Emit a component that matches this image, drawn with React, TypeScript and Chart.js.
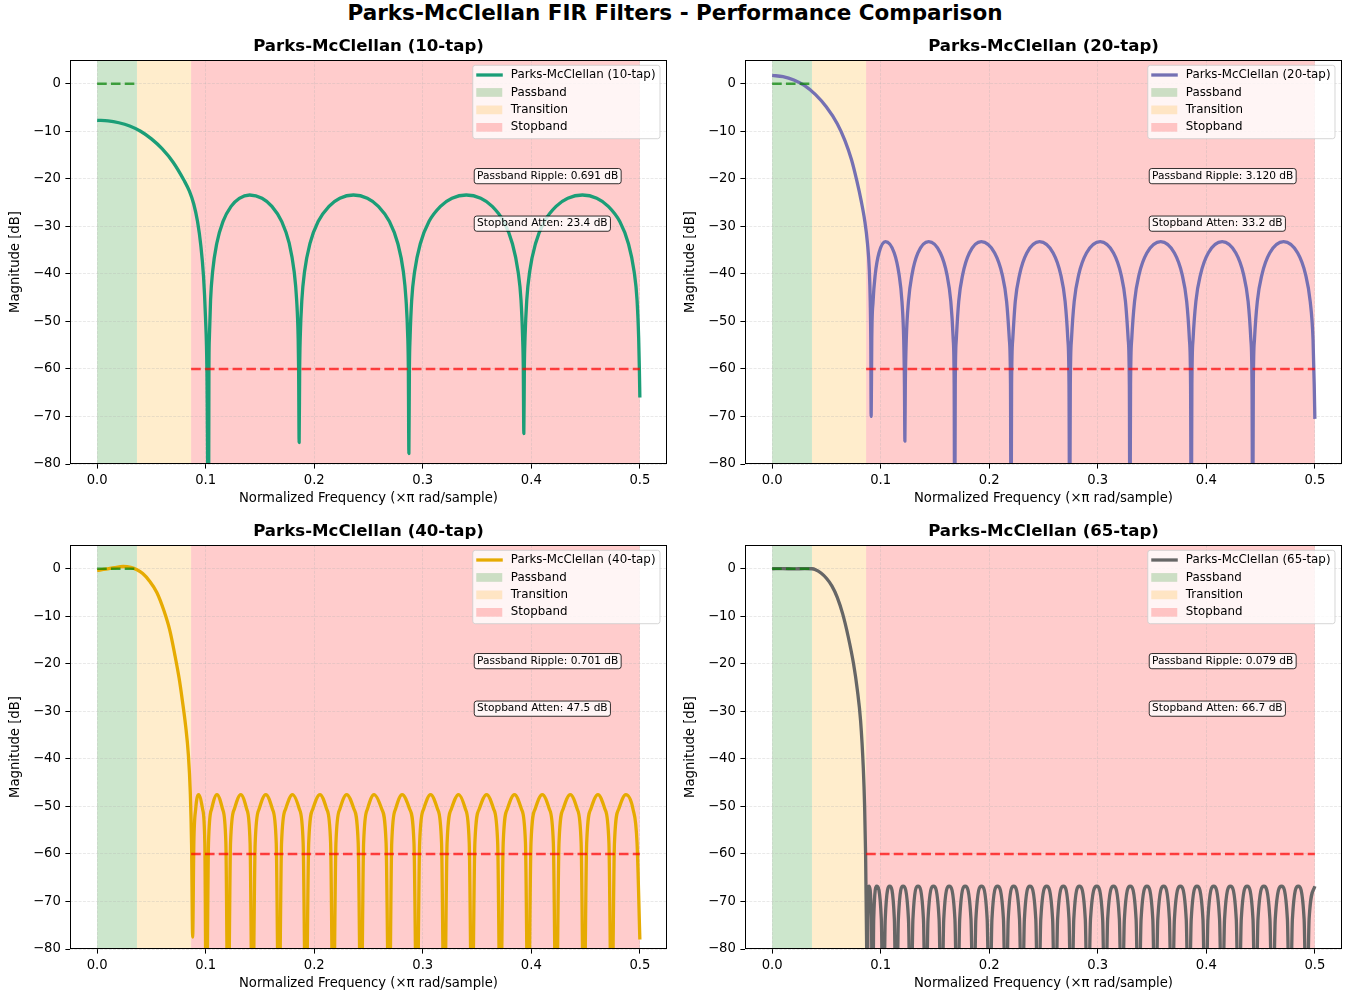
import React, { useEffect, useRef } from "react";
import { Chart, registerables } from "chart.js";

Chart.register(...registerables);

const FONT = "'DejaVu Sans', 'Liberation Sans', sans-serif";

// ---------- axes ----------
const xTicks = [0, 0.1, 0.2, 0.3, 0.4, 0.5];
const xTickLabels = ["0.0", "0.1", "0.2", "0.3", "0.4", "0.5"];
const yTicks = [-80, -70, -60, -50, -40, -30, -20, -10, 0];
const yTickLabels = ["−80", "−70", "−60", "−50", "−40", "−30", "−20", "−10", "0"];
const xRange = [-0.025, 0.525];
const yRange = [-80, 5];

// ---------- band edges / reference levels ----------
const passbandEdge = 0.0367;
const stopbandEdge = 0.0866;
const nyquistEdge = 0.5;
const passbandRef = 0;
const stopbandRef = -60;

// ---------- texts ----------
const suptitle = "Parks-McClellan FIR Filters - Performance Comparison";
const panelTitles = [
  "Parks-McClellan (10-tap)",
  "Parks-McClellan (20-tap)",
  "Parks-McClellan (40-tap)",
  "Parks-McClellan (65-tap)",
];
const rippleValues = ["0.691", "3.120", "0.701", "0.079"];
const attenValues = ["23.4", "33.2", "47.5", "66.7"];
const bandLabels = ["Passband", "Transition", "Stopband"];
const xAxisTitle = "Normalized Frequency (×π rad/sample)";
const yAxisTitle = "Magnitude [dB]";

// ---------- magnitude responses [freq, dB] ----------
const resp10: [number, number][] = [
  [0, -7.7], [0.01, -7.8], [0.02, -8.2], [0.03, -8.9], [0.04, -10.0], [0.05, -11.6], [0.06, -13.7], [0.07, -16.5],
  [0.08, -20.3], [0.085, -22.6], [0.089, -25.3], [0.0925, -29.0], [0.0955, -34.0], [0.098, -40.5], [0.0998, -49.0], [0.1012, -61.0], [0.1026, -100],
  [0.103, -59.5], [0.1034, -53.5], [0.1045, -45.5], [0.1064, -39.5], [0.1102, -33.6], [0.1159, -29.0], [0.1234, -25.8], [0.131, -24.1], [0.1405, -23.4],
  [0.1519, -24.1], [0.161, -25.8], [0.1701, -29.0], [0.177, -33.6], [0.1815, -39.5], [0.1838, -45.5], [0.1852, -53.5], [0.1856, -59.5], [0.1861, -75.5],
  [0.1866, -59.5], [0.1871, -53.5], [0.1886, -45.5], [0.1911, -39.5], [0.1961, -33.6], [0.2036, -29.0], [0.2136, -25.8], [0.2236, -24.1], [0.2361, -23.4],
  [0.2489, -24.1], [0.2591, -25.8], [0.2693, -29.0], [0.277, -33.6], [0.2821, -39.5], [0.2846, -45.5], [0.2862, -53.5], [0.2867, -59.5], [0.2872, -77.8],
  [0.2877, -59.5], [0.2883, -53.5], [0.2898, -45.5], [0.2925, -39.5], [0.2978, -33.6], [0.3057, -29.0], [0.3163, -25.8], [0.3269, -24.1], [0.3401, -23.4],
  [0.3534, -24.1], [0.364, -25.8], [0.3746, -29.0], [0.3825, -33.6], [0.3878, -39.5], [0.3905, -45.5], [0.392, -53.5], [0.3926, -59.5], [0.3931, -73.6],
  [0.3936, -59.5], [0.3942, -53.5], [0.3958, -45.5], [0.3985, -39.5], [0.4039, -33.6], [0.412, -29.0], [0.4228, -25.8], [0.4336, -24.1], [0.4471, -23.4],
  [0.4603, -24.1], [0.4709, -25.8], [0.4815, -29.0], [0.4894, -33.6], [0.4947, -39.5], [0.4974, -45.5], [0.4989, -53.5], [0.4995, -59.5], [0.5, -66.0],
];

const resp20: [number, number][] = [
  [0, 1.75], [0.01, 1.5], [0.02, 0.8], [0.03, -0.4], [0.04, -2.3], [0.05, -4.9], [0.06, -8.4], [0.067, -11.9],
  [0.073, -15.9], [0.078, -20.4], [0.082, -24.6], [0.0853, -28.8], [0.0878, -33.5], [0.0895, -39.0], [0.0904, -46.0], [0.0909, -55.0], [0.0912, -70.0],
  [0.0915, -63.3], [0.0918, -53.7], [0.093, -45.8], [0.095, -40.1], [0.0984, -35.6], [0.1044, -33.2], [0.1125, -35.6], [0.1169, -40.1], [0.1196, -45.8], [0.1212, -53.7], [0.1219, -63.3], [0.1223, -75.2],
  [0.1227, -63.3], [0.1236, -53.7], [0.1256, -45.8], [0.1289, -40.1], [0.1343, -35.6], [0.1442, -33.2], [0.155, -35.6], [0.161, -40.1], [0.1646, -45.8], [0.1668, -53.7], [0.1677, -63.3], [0.1682, -100],
  [0.1687, -63.3], [0.1697, -53.7], [0.1719, -45.8], [0.1756, -40.1], [0.1817, -35.6], [0.1927, -33.2], [0.205, -35.6], [0.2119, -40.1], [0.216, -45.8], [0.2185, -53.7], [0.2196, -63.3], [0.2201, -100],
  [0.2206, -63.3], [0.2217, -53.7], [0.224, -45.8], [0.228, -40.1], [0.2346, -35.6], [0.2464, -33.2], [0.2589, -35.6], [0.2658, -40.1], [0.2699, -45.8], [0.2724, -53.7], [0.2735, -63.3], [0.2741, -100],
  [0.2747, -63.3], [0.2758, -53.7], [0.2783, -45.8], [0.2825, -40.1], [0.2896, -35.6], [0.3022, -33.2], [0.3145, -35.6], [0.3214, -40.1], [0.3255, -45.8], [0.328, -53.7], [0.3291, -63.3], [0.3296, -100],
  [0.3302, -63.3], [0.3313, -53.7], [0.3339, -45.8], [0.3381, -40.1], [0.3452, -35.6], [0.358, -33.2], [0.3706, -35.6], [0.3777, -40.1], [0.3819, -45.8], [0.3844, -53.7], [0.3855, -63.3], [0.3861, -100],
  [0.3867, -63.3], [0.3878, -53.7], [0.3904, -45.8], [0.3947, -40.1], [0.4018, -35.6], [0.4146, -33.2], [0.4272, -35.6], [0.4343, -40.1], [0.4385, -45.8], [0.441, -53.7], [0.4421, -63.3], [0.4427, -100],
  [0.4433, -63.3], [0.4444, -53.7], [0.447, -45.8], [0.4513, -40.1], [0.4584, -35.6], [0.4712, -33.2], [0.4842, -35.6], [0.4914, -40.1], [0.4957, -45.8], [0.4983, -53.7], [0.4994, -63.3], [0.5, -70.5],
];

const resp40: [number, number][] = [
  [0, -0.35], [0.008, -0.1], [0.016, 0.25], [0.024, 0.48], [0.031, 0.3], [0.0367, -0.2], [0.042, -1.0], [0.048, -2.5],
  [0.055, -5.0], [0.0615, -8.8], [0.067, -13.0], [0.0715, -18.0], [0.0755, -23.0], [0.0785, -27.7], [0.0815, -33.0],
  [0.084, -39.0], [0.0858, -47.0], [0.087, -58.0], [0.088, -77.5],
  [0.0891, -57.7], [0.0908, -50.5], [0.0935, -47.5], [0.0971, -50.5], [0.0992, -57.7], [0.1006, -100],
  [0.1026, -57.7], [0.1055, -50.5], [0.1104, -47.5], [0.1155, -50.5], [0.1186, -57.7], [0.1206, -100],
  [0.1229, -57.7], [0.1265, -50.5], [0.1323, -47.5], [0.1377, -50.5], [0.1409, -57.7], [0.1431, -100],
  [0.1456, -57.7], [0.1493, -50.5], [0.1554, -47.5], [0.1614, -50.5], [0.165, -57.7], [0.1674, -100],
  [0.1699, -57.7], [0.1737, -50.5], [0.18, -47.5], [0.1862, -50.5], [0.1898, -57.7], [0.1923, -100],
  [0.1949, -57.7], [0.1988, -50.5], [0.2053, -47.5], [0.2114, -50.5], [0.2151, -57.7], [0.2175, -100],
  [0.22, -57.7], [0.2237, -50.5], [0.2299, -47.5], [0.2365, -50.5], [0.2405, -57.7], [0.2431, -100],
  [0.2455, -57.7], [0.2491, -50.5], [0.2551, -47.5], [0.2621, -50.5], [0.2662, -57.7], [0.269, -100],
  [0.2714, -57.7], [0.275, -50.5], [0.281, -47.5], [0.2878, -50.5], [0.2919, -57.7], [0.2946, -100],
  [0.2971, -57.7], [0.3009, -50.5], [0.3072, -47.5], [0.3135, -50.5], [0.3173, -57.7], [0.3198, -100],
  [0.3224, -57.7], [0.3264, -50.5], [0.333, -47.5], [0.3392, -50.5], [0.3428, -57.7], [0.3453, -100],
  [0.348, -57.7], [0.3521, -50.5], [0.3588, -47.5], [0.3652, -50.5], [0.369, -57.7], [0.3715, -100],
  [0.3741, -57.7], [0.378, -50.5], [0.3845, -47.5], [0.3908, -50.5], [0.3946, -57.7], [0.3971, -100],
  [0.3997, -57.7], [0.4036, -50.5], [0.4101, -47.5], [0.4165, -50.5], [0.4203, -57.7], [0.4229, -100],
  [0.4255, -57.7], [0.4294, -50.5], [0.4359, -47.5], [0.4422, -50.5], [0.4459, -57.7], [0.4484, -100],
  [0.451, -57.7], [0.4549, -50.5], [0.4614, -47.5], [0.4677, -50.5], [0.4715, -57.7], [0.474, -100],
  [0.4766, -57.7], [0.4806, -50.5], [0.4871, -47.5], [0.4936, -50.5], [0.4974, -57.7], [0.5, -78.0],
];

const resp65: [number, number][] = [
  [0, 0.0], [0.01, 0.03], [0.02, -0.03], [0.03, 0.03], [0.0367, 0.0], [0.04, -0.2], [0.045, -0.9], [0.05, -2.0],
  [0.055, -3.6], [0.06, -6.0], [0.065, -9.5], [0.07, -14.2], [0.075, -20.0], [0.0785, -25.5], [0.0815, -32.0],
  [0.084, -42.0], [0.0852, -50.0], [0.0861, -60.0], [0.087, -78.0], [0.0877, -100],
  [0.0882, -73.7], [0.0892, -66.8], [0.0915, -73.7], [0.0925, -100],
  [0.0936, -73.7], [0.0963, -66.8], [0.1006, -73.7], [0.1024, -100],
  [0.1042, -73.7], [0.1083, -66.8], [0.1126, -73.7], [0.1144, -100],
  [0.1163, -73.7], [0.1206, -66.8], [0.1256, -73.7], [0.1277, -100],
  [0.1297, -73.7], [0.1344, -66.8], [0.1394, -73.7], [0.1415, -100],
  [0.1436, -73.7], [0.1486, -66.8], [0.1538, -73.7], [0.156, -100],
  [0.1581, -73.7], [0.1631, -66.8], [0.1684, -73.7], [0.1707, -100],
  [0.1728, -73.7], [0.1778, -66.8], [0.1832, -73.7], [0.1855, -100],
  [0.1877, -73.7], [0.1929, -66.8], [0.1981, -73.7], [0.2003, -100],
  [0.2025, -73.7], [0.2076, -66.8], [0.2131, -73.7], [0.2154, -100],
  [0.2175, -73.7], [0.2225, -66.8], [0.2279, -73.7], [0.2302, -100],
  [0.2324, -73.7], [0.2375, -66.8], [0.2429, -73.7], [0.2452, -100],
  [0.2475, -73.7], [0.2529, -66.8], [0.2584, -73.7], [0.2607, -100],
  [0.263, -73.7], [0.2683, -66.8], [0.2735, -73.7], [0.2757, -100],
  [0.2779, -73.7], [0.2831, -66.8], [0.2885, -73.7], [0.2908, -100],
  [0.2933, -73.7], [0.2991, -66.8], [0.3045, -73.7], [0.3068, -100],
  [0.3091, -73.7], [0.3145, -66.8], [0.3199, -73.7], [0.3222, -100],
  [0.3245, -73.7], [0.3299, -66.8], [0.3353, -73.7], [0.3376, -100],
  [0.3399, -73.7], [0.3453, -66.8], [0.3507, -73.7], [0.353, -100],
  [0.3553, -73.7], [0.3607, -66.8], [0.366, -73.7], [0.3683, -100],
  [0.3706, -73.7], [0.3761, -66.8], [0.3815, -73.7], [0.3838, -100],
  [0.3861, -73.7], [0.3914, -66.8], [0.3969, -73.7], [0.3992, -100],
  [0.4015, -73.7], [0.4068, -66.8], [0.4122, -73.7], [0.4145, -100],
  [0.4168, -73.7], [0.4222, -66.8], [0.4276, -73.7], [0.4299, -100],
  [0.4322, -73.7], [0.4376, -66.8], [0.443, -73.7], [0.4453, -100],
  [0.4476, -73.7], [0.453, -66.8], [0.4586, -73.7], [0.461, -100],
  [0.4635, -73.7], [0.4693, -66.8], [0.4747, -73.7], [0.477, -100],
  [0.4793, -73.7], [0.4847, -66.8], [0.4901, -73.7], [0.4924, -100],
  [0.4947, -73.7], [0.5, -66.8],
];

const responses = [resp10, resp20, resp40, resp65];

// ---------- styles / layout (kept apart from the data) ----------
const lineColors = ["#1b9e77", "#7570b3", "#e6ab02", "#666666"];
const bandColors = ["rgba(0,128,0,0.2)", "rgba(255,165,0,0.2)", "rgba(255,0,0,0.2)"];
const panelOrigins = [
  [0, 28],
  [675, 28],
  [0, 513],
  [675, 513],
];
const CANVAS_W = 680;
const CANVAS_H = 480;

function roundRectPath(ctx: CanvasRenderingContext2D, x: number, y: number, w: number, h: number, r: number) {
  ctx.beginPath();
  ctx.moveTo(x + r, y);
  ctx.lineTo(x + w - r, y);
  ctx.arcTo(x + w, y, x + w, y + r, r);
  ctx.lineTo(x + w, y + h - r);
  ctx.arcTo(x + w, y + h, x + w - r, y + h, r);
  ctx.lineTo(x + r, y + h);
  ctx.arcTo(x, y + h, x, y + h - r, r);
  ctx.lineTo(x, y + r);
  ctx.arcTo(x, y, x + r, y, r);
  ctx.closePath();
}

function Panel({ index }: { index: number }) {
  const ref = useRef<HTMLCanvasElement | null>(null);

  useEffect(() => {
    const canvas = ref.current;
    if (!canvas) return;
    const title = panelTitles[index];
    const color = lineColors[index];
    const bandEdges: [number, number][] = [
      [0, passbandEdge],
      [passbandEdge, stopbandEdge],
      [stopbandEdge, nyquistEdge],
    ];

    const decor = {
      id: "decor" + index,
      beforeDraw(chart: any) {
        const { ctx, chartArea: ca, scales } = chart;
        const xs = scales.x;
        ctx.save();
        ctx.fillStyle = "#ffffff";
        ctx.fillRect(0, 0, chart.width, chart.height);
        bandEdges.forEach(([a, b], i) => {
          const x0 = xs.getPixelForValue(a);
          const x1 = xs.getPixelForValue(b);
          ctx.fillStyle = bandColors[i];
          ctx.fillRect(x0, ca.top, x1 - x0, ca.bottom - ca.top);
        });
        ctx.fillStyle = "#000";
        ctx.font = `bold 16.6px ${FONT}`;
        ctx.textAlign = "center";
        ctx.textBaseline = "middle";
        ctx.fillText(title, (ca.left + ca.right) / 2, ca.top - 13);
        ctx.restore();
      },
      afterDraw(chart: any) {
        const { ctx, chartArea: ca, scales } = chart;
        const xs = scales.x;
        const ys = scales.y;
        ctx.save();
        // spines
        ctx.strokeStyle = "#000";
        ctx.lineWidth = 1;
        ctx.strokeRect(Math.round(ca.left) + 0.5, Math.round(ca.top) + 0.5, Math.round(ca.right - ca.left) - 1, Math.round(ca.bottom - ca.top) - 1);

        // text boxes
        const boxTexts = [
          [`Passband Ripple: ${rippleValues[index]} dB`, -20],
          [`Stopband Atten: ${attenValues[index]} dB`, -30],
        ] as [string, number][];
        ctx.font = `10.6px ${FONT}`;
        boxTexts.forEach(([txt, yv]) => {
          const tx = xs.getPixelForValue(0.35);
          const ty = ys.getPixelForValue(yv);
          const w = ctx.measureText(txt).width;
          roundRectPath(ctx, tx - 2.8, ty - 10.3, w + 5.6, 15.2, 2.5);
          ctx.fillStyle = "rgba(255,255,255,0.8)";
          ctx.fill();
          ctx.strokeStyle = "rgba(0,0,0,0.8)";
          ctx.lineWidth = 1;
          ctx.stroke();
          ctx.fillStyle = "#000";
          ctx.textAlign = "left";
          ctx.textBaseline = "alphabetic";
          ctx.fillText(txt, tx, ty);
        });

        // legend
        const labels = [title, ...bandLabels];
        ctx.font = `11.85px ${FONT}`;
        const maxW = Math.max(...labels.map((l) => ctx.measureText(l).width));
        const lw = 38 + maxW + 4.5;
        const lh = 73.4;
        const L = ca.right - 7 - lw;
        const T = ca.top + 5.3;
        roundRectPath(ctx, L, T, lw, lh, 2.5);
        ctx.fillStyle = "rgba(255,255,255,0.8)";
        ctx.fill();
        ctx.strokeStyle = "rgba(204,204,204,0.8)";
        ctx.lineWidth = 1;
        ctx.stroke();
        labels.forEach((lab, i) => {
          const ry = T + 9.7 + i * 17.45;
          if (i === 0) {
            ctx.strokeStyle = color;
            ctx.lineWidth = 3.3;
            ctx.beginPath();
            ctx.moveTo(L + 3.5, ry);
            ctx.lineTo(L + 30, ry);
            ctx.stroke();
          } else {
            ctx.fillStyle = bandColors[i - 1];
            ctx.fillRect(L + 3.5, ry - 4.35, 26, 8.7);
          }
          ctx.fillStyle = "#000";
          ctx.textAlign = "left";
          ctx.textBaseline = "middle";
          ctx.fillText(lab, L + 38, ry);
        });
        ctx.restore();
      },
    };

    const tickFont = { family: FONT, size: 13.2 };
    const chart = new Chart(canvas, {
      type: "line",
      data: {
        datasets: [
          {
            label: "passband ref",
            data: [
              { x: 0, y: passbandRef },
              { x: passbandEdge, y: passbandRef },
            ],
            borderColor: "rgba(0,128,0,0.7)",
            borderWidth: 2.4,
            borderDash: [9.6, 4.2],
            pointRadius: 0,
            order: 1,
            clip: 0,
          },
          {
            label: "stopband ref",
            data: [
              { x: stopbandEdge, y: stopbandRef },
              { x: nyquistEdge, y: stopbandRef },
            ],
            borderColor: "rgba(255,0,0,0.7)",
            borderWidth: 2.4,
            borderDash: [9.6, 4.2],
            pointRadius: 0,
            order: 1,
            clip: 0,
          },
          {
            label: title,
            data: responses[index].map(([x, y]) => ({ x, y })),
            borderColor: color,
            borderWidth: 3.3,
            pointRadius: 0,
            cubicInterpolationMode: "monotone",
            borderJoinStyle: "round",
            order: 2,
            clip: 0,
          },
        ],
      } as any,
      options: {
        responsive: false,
        animation: false,
        devicePixelRatio: 1,
        events: [],
        layout: { padding: { top: 32, right: 13, bottom: 0, left: 0 } },
        plugins: { legend: { display: false }, title: { display: false }, tooltip: { enabled: false } },
        scales: {
          x: {
            type: "linear",
            min: xRange[0],
            max: xRange[1],
            bounds: "data",
            afterBuildTicks: (s: any) => {
              s.ticks = xTicks.map((v) => ({ value: v }));
            },
            afterFit: (s: any) => {
              s.height = 44;
            },
            ticks: {
              callback: (v: any) => {
                const k = xTicks.indexOf(Number(v));
                return k >= 0 ? xTickLabels[k] : "";
              },
              autoSkip: false,
              maxRotation: 0,
              padding: 4,
              color: "#000",
              font: tickFont,
            },
            grid: { color: "rgba(176,176,176,0.35)", lineWidth: 0.8, tickLength: 4.6, tickColor: "#000", tickWidth: 1, drawTicks: true },
            border: { display: false, dash: [3, 1.3] },
            title: { display: true, text: xAxisTitle, color: "#000", font: tickFont, padding: { top: 0, bottom: 1.5 } },
          },
          y: {
            type: "linear",
            min: yRange[0],
            max: yRange[1],
            bounds: "data",
            afterBuildTicks: (s: any) => {
              s.ticks = yTicks.map((v) => ({ value: v }));
            },
            afterFit: (s: any) => {
              s.width = 70;
            },
            ticks: {
              callback: (v: any) => {
                const k = yTicks.indexOf(Number(v));
                return k >= 0 ? yTickLabels[k] : "";
              },
              autoSkip: false,
              padding: 4.6,
              color: "#000",
              font: tickFont,
            },
            grid: { color: "rgba(176,176,176,0.35)", lineWidth: 0.8, tickLength: 4.6, tickColor: "#000", tickWidth: 1, drawTicks: true },
            border: { display: false, dash: [3, 1.3] },
            title: { display: true, text: yAxisTitle, color: "#000", font: tickFont, padding: { top: 8, bottom: 0 } },
          },
        },
      } as any,
      plugins: [decor],
    });
    return () => chart.destroy();
  }, [index]);

  const [left, top] = panelOrigins[index];
  return (
    <div style={{ position: "absolute", left, top, width: CANVAS_W, height: CANVAS_H }}>
      <canvas ref={ref} width={CANVAS_W} height={CANVAS_H} style={{ width: CANVAS_W, height: CANVAS_H, display: "block" }} />
    </div>
  );
}

export default function App() {
  return (
    <div
      style={{
        position: "absolute",
        left: 0,
        top: 0,
        width: 1363,
        height: 997,
        overflow: "hidden",
        background: "#ffffff",
      }}
    >
      <div
        style={{
          position: "absolute",
          left: 0,
          top: 0,
          width: 1350,
          height: 26,
          lineHeight: "26px",
          textAlign: "center",
          fontFamily: FONT,
          fontWeight: "bold",
          fontSize: 21.5,
          color: "#000",
          whiteSpace: "nowrap",
        }}
      >
        {suptitle}
      </div>
      {[0, 1, 2, 3].map((i) => (
        <Panel key={i} index={i} />
      ))}
    </div>
  );
}
